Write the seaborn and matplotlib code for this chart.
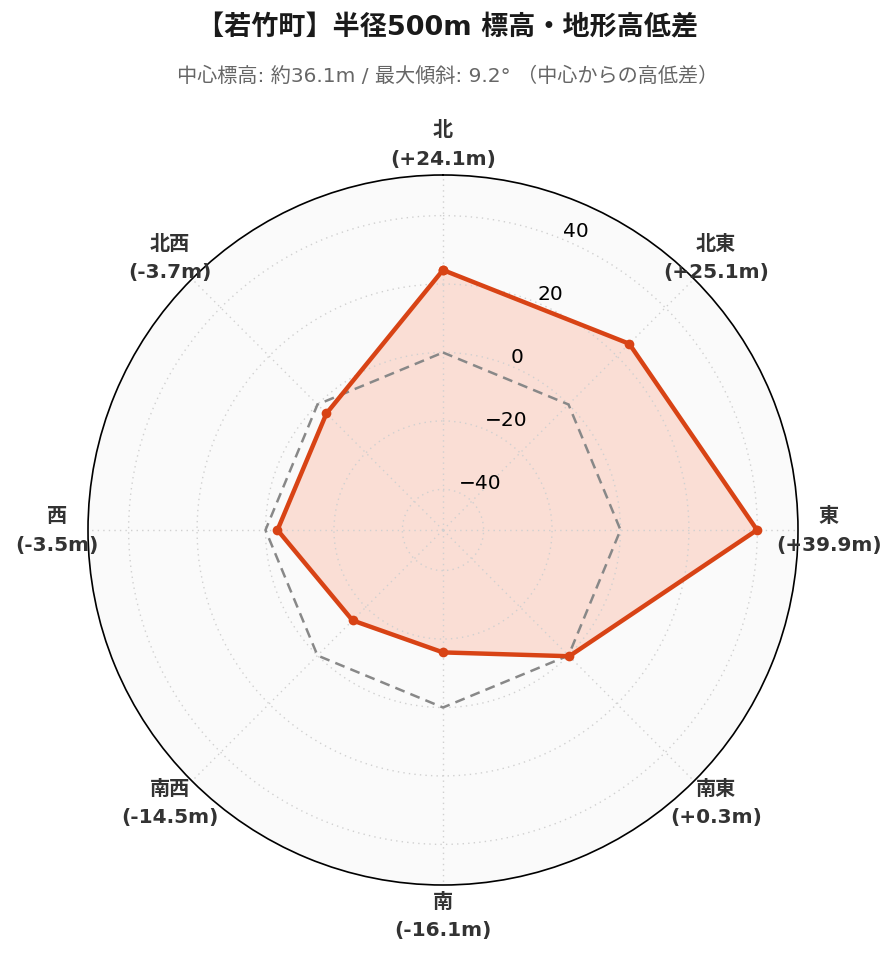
import numpy as np
import pandas as pd
import matplotlib
matplotlib.use("Agg")
import matplotlib.pyplot as plt
import seaborn as sns

directions = ["北", "北東", "東", "南東", "南", "南西", "西", "北西"]
diffs = [24.1, 25.1, 39.9, 0.3, -16.1, -14.5, -3.5, -3.7]
radial_ticks = [-40, -20, 0, 20, 40]
title = "【若竹町】半径500m 標高・地形高低差"
subtitle = "中心標高: 約36.1m / 最大傾斜: 9.2° （中心からの高低差）"

sns.set_style("white")
plt.rcParams["font.family"] = ["DejaVu Sans", "Noto Sans CJK JP"]
plt.rcParams["axes.unicode_minus"] = True

n = len(directions)
theta = np.linspace(0, 2 * np.pi, n, endpoint=False)
theta_c = np.append(theta, 2 * np.pi)
vals_c = np.append(diffs, diffs[0])
df = pd.DataFrame({"theta": theta_c, "diff": vals_c})
zero_df = pd.DataFrame({"theta": theta_c, "diff": np.zeros(len(theta_c))})

lim = max(abs(v) for v in diffs) * 1.3

fig = plt.figure(figsize=(8.96, 9.62), dpi=100)
ax = fig.add_axes([88 / 896, 1 - 886 / 962, 710 / 896, 710 / 962], projection="polar")
ax.set_facecolor("#fafafa")
ax.set_theta_zero_location("N")
ax.set_theta_direction(-1)

ax.fill(theta_c, vals_c, color="#FF5722", alpha=0.17, zorder=1, linewidth=0)
sns.lineplot(data=zero_df, x="theta", y="diff", sort=False, estimator=None, ax=ax,
             color="#888888", linestyle=(0, (4, 2.5)), linewidth=1.8, zorder=3)
sns.lineplot(data=df, x="theta", y="diff", sort=False, estimator=None, ax=ax,
             color="#D84315", linewidth=3.2, marker="o", markersize=7,
             markeredgewidth=0, zorder=4)
ax.set_ylim(-lim, lim)

ax.set_xticks(theta)
ax.set_xticklabels([])
ax.set_yticks(radial_ticks)
ax.set_yticklabels([f"{t}".replace("-", "\u2212") for t in radial_ticks],
                   fontsize=14.5, color="black")
ax.set_rlabel_position(22.5)
ax.grid(True, color="#d0d0d0", linestyle=(0, (1, 3)), linewidth=1.0)
ax.set_axisbelow(False)
for gl in ax.get_xgridlines() + ax.get_ygridlines():
    gl.set_zorder(2)
ax.spines["polar"].set_color("black")
ax.spines["polar"].set_linewidth(1.2)
ax.set_xlabel("")
ax.set_ylabel("")

label_r = -lim + (2 * lim) * 386 / 355
for t, d, v in zip(theta, directions, diffs):
    ax.text(t, label_r, f"{d}\n({v:+.1f}m)", ha="center", va="center",
            fontsize=14.5, fontweight="bold", color="#333333", linespacing=1.6)

fig.text(0.5, 1 - 28 / 962, title, ha="center", va="center",
         fontsize=19.5, fontweight="bold", color="#1a1a1a")
fig.text(0.5, 1 - 76 / 962, subtitle, ha="center", va="center",
         fontsize=14.5, color="#666666")

fig.savefig("out.png", dpi=100, facecolor="white")
